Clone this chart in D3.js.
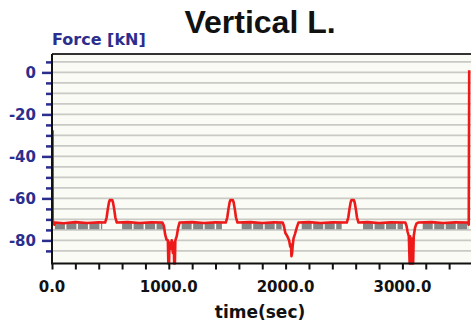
<!DOCTYPE html>
<html>
<head>
<meta charset="utf-8">
<script src="https://cdn.jsdelivr.net/npm/d3@7"></script>
<style>
    body { margin: 0; background: #fff; }
    svg { display: block; }
</style>
</head>
<body>
<svg width="471" height="326"></svg>
<script>

// red trace: time (sec) and force (kN)
var redTime = [5, 6, 12, 20, 30, 100, 200, 300, 400, 455,
    468, 478, 488, 495, 515, 522, 532, 542, 555, 650,
    750, 850, 945, 958, 968, 980, 992, 996, 1002, 1006,
    1015, 1025, 1035, 1042, 1046, 1052, 1056, 1068, 1080, 1092,
    1200, 1300, 1400, 1488, 1501, 1511, 1521, 1528, 1548, 1555,
    1565, 1575, 1588, 1700, 1800, 1900, 1975, 1985, 1998, 2015,
    2030, 2040, 2046, 2050, 2056, 2060, 2068, 2080, 2095, 2110,
    2200, 2300, 2400, 2524, 2537, 2547, 2557, 2564, 2584, 2591,
    2601, 2611, 2624, 2700, 2800, 2900, 3025, 3035, 3045, 3055,
    3062, 3066, 3072, 3076, 3082, 3086, 3092, 3097, 3108, 3120,
    3135, 3250, 3350, 3450, 3560, 3568, 3572];
var redForce = [-27.5, -71.5, -71, -72.5, -71.5, -71.8, -71.3, -71.7, -71.4, -71.5,
    -69, -65, -61.8, -60.8, -60.8, -61.8, -65, -69, -71.5, -71.3,
    -71.7, -71.4, -71.5, -73, -77, -79.5, -80, -91, -91, -81,
    -84, -80, -86, -81, -91, -91, -80, -78, -74, -71.5,
    -71.3, -71.7, -71.4, -71.5, -69, -65, -61.8, -60.8, -60.8, -61.8,
    -65, -69, -71.5, -71.3, -71.7, -71.4, -71.5, -73, -76.5, -78,
    -80, -83, -82, -87.5, -86, -83, -79, -77, -74, -71.5,
    -71.3, -71.7, -71.4, -71.5, -69, -65, -61.8, -60.8, -60.8, -61.8,
    -65, -69, -71.5, -71.3, -71.7, -71.4, -71.5, -73, -76, -78,
    -91, -78, -91, -79, -91, -80, -91, -78, -74, -72,
    -71.5, -71.3, -71.7, -71.4, -71.5, -72.5, 1];

// grey reference trace: level and the time spans where it is drawn
var greyLevel = -73;
var greyStart = [25, 600, 1110, 1624, 2138, 2663, 3174];
var greyEnd = [430, 950, 1455, 1966, 2480, 3005, 3570];

var yMajor = [0, -20, -40, -60, -80];
var xMajor = [0, 1000, 2000, 3000];

var svg = d3.select("svg"),
    plotLeft = 52,
    plotTop = 54,
    plotBottom = 263.5,
    plotRight = 471;

var x = d3.scaleLinear().domain([0, 3600]).range([plotLeft, plotLeft + 3600 * 0.1168]);
var y = d3.scaleLinear().domain([-91, 9]).range([plotBottom, plotBottom - 210]);

var navy = "#2c2e8e";

// plot background
svg.append("rect")
    .attr("x", plotLeft)
    .attr("y", plotTop)
    .attr("width", plotRight - plotLeft)
    .attr("height", plotBottom - plotTop)
    .attr("fill", "#fbfbf5");

// horizontal grid every 5 kN
var gridVals = d3.range(-85, 9, 5);
svg.append("g")
    .selectAll("line")
    .data(gridVals)
    .enter().append("line")
    .attr("x1", plotLeft)
    .attr("x2", plotRight)
    .attr("y1", function(d) { return y(d); })
    .attr("y2", function(d) { return y(d); })
    .attr("stroke", "#c9c9c6")
    .attr("stroke-width", 1.6);

// top frame
svg.append("line")
    .attr("x1", plotLeft).attr("x2", plotRight)
    .attr("y1", plotTop).attr("y2", plotTop)
    .attr("stroke", "#333")
    .attr("stroke-width", 1.8);

// grey dashed trace
svg.append("g")
    .selectAll("line")
    .data(greyStart)
    .enter().append("line")
    .attr("x1", function(d) { return x(d); })
    .attr("x2", function(d, i) { return x(greyEnd[i]); })
    .attr("y1", y(greyLevel))
    .attr("y2", y(greyLevel))
    .attr("stroke", "#858585")
    .attr("stroke-width", 7)
    .attr("stroke-dasharray", "10,1.5");

// red trace
var redData = redTime.map(function(t, i) { return [t, redForce[i]]; });
var line = d3.line()
    .x(function(d) { return x(d[0]); })
    .y(function(d) { return y(Math.max(d[1], -91)); });

svg.append("path")
    .datum(redData)
    .attr("d", line)
    .attr("fill", "none")
    .attr("stroke", "#ee1a1a")
    .attr("stroke-width", 2.6)
    .attr("stroke-linejoin", "round");

// y axis (ticks every 5, long ticks every 20)
var yAxis = d3.axisLeft(y)
    .tickValues(gridVals)
    .tickSize(6)
    .tickFormat("");
var gy = svg.append("g")
    .attr("transform", "translate(" + plotLeft + ",0)")
    .call(yAxis);
gy.select(".domain").remove();
gy.selectAll(".tick line")
    .attr("stroke", navy)
    .attr("stroke-width", 2.5)
    .attr("x2", function(d) { return yMajor.indexOf(d) >= 0 ? -10 : -6; });

svg.append("g")
    .selectAll("text")
    .data(yMajor)
    .enter().append("text")
    .attr("x", 36)
    .attr("y", function(d) { return y(d) + 5.5; })
    .attr("text-anchor", "end")
    .attr("fill", navy)
    .style("font", "bold 15px 'DejaVu Sans'")
    .text(function(d) { return d; });

svg.append("line")
    .attr("x1", plotLeft).attr("x2", plotLeft)
    .attr("y1", plotTop).attr("y2", plotBottom)
    .attr("stroke", "#111")
    .attr("stroke-width", 2);

// x axis
var xAxis = d3.axisBottom(x)
    .tickValues(d3.range(0, 3601, 200))
    .tickSize(6)
    .tickFormat("");
var gx = svg.append("g")
    .attr("transform", "translate(0," + plotBottom + ")")
    .call(xAxis);
gx.select(".domain").remove();
gx.selectAll(".tick line")
    .attr("stroke", "#111")
    .attr("stroke-width", 2);

svg.append("line")
    .attr("x1", plotLeft - 1).attr("x2", plotRight)
    .attr("y1", plotBottom).attr("y2", plotBottom)
    .attr("stroke", "#111")
    .attr("stroke-width", 2);

svg.append("g")
    .selectAll("text")
    .data(xMajor)
    .enter().append("text")
    .attr("x", function(d) { return x(d); })
    .attr("y", 292)
    .attr("text-anchor", "middle")
    .attr("fill", "#111")
    .style("font", "bold 15px 'DejaVu Sans'")
    .text(function(d) { return d.toFixed(1); });

// labels
svg.append("text")
    .attr("x", 260)
    .attr("y", 318)
    .attr("text-anchor", "middle")
    .attr("fill", "#111")
    .style("font", "bold 17px 'DejaVu Sans'")
    .text("time(sec)");

svg.append("text")
    .attr("x", 52)
    .attr("y", 45)
    .attr("fill", navy)
    .style("font", "bold 16px 'DejaVu Sans'")
    .text("Force [kN]");

svg.append("text")
    .attr("x", 260)
    .attr("y", 33)
    .attr("text-anchor", "middle")
    .attr("fill", "#111")
    .style("font", "bold 32px 'Liberation Sans'")
    .text("Vertical L.");

</script>
</body>
</html>
